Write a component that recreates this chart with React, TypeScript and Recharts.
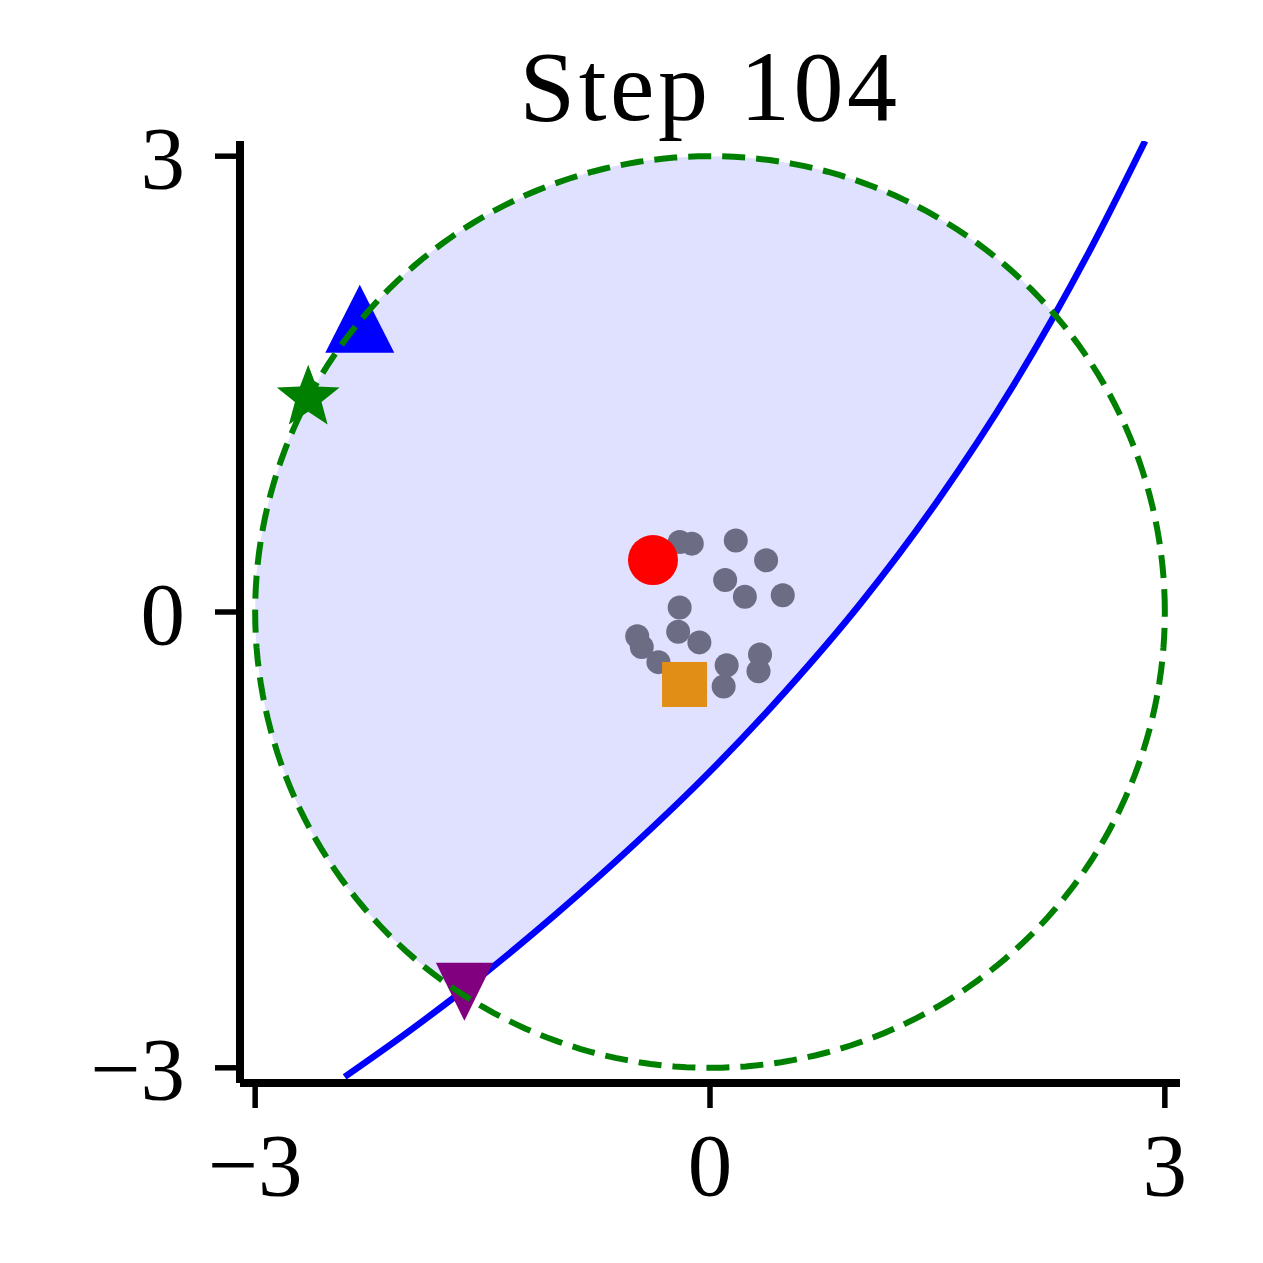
import { Area, ComposedChart, Customized, Line, Scatter, XAxis, YAxis } from "recharts";

const TITLE = "Step 104";
const AXIS_TICKS = [-3, 0, 3];
const CIRCLE_RADIUS = 3;

// blue boundary curve
const CURVE_X = [-2.41, -2.0, -1.5, -1.0, -0.5, 0.0, 0.5, 1.0, 1.5, 2.0, 2.5, 2.87];
const CURVE_Y = [-3.06, -2.77, -2.39, -1.975, -1.53, -1.05, -0.52, 0.065, 0.73, 1.49, 2.37, 3.1];

// where the curve crosses the circle
const LOWER_CROSS = { x: -1.645, y: -2.507 };
const UPPER_CROSS = { x: 2.275, y: 1.955 };

// left part of the shaded region follows the circle only
const CIRCLE_ONLY_X = [-3.0, -2.995, -2.98, -2.95, -2.9, -2.83, -2.74, -2.62, -2.47, -2.3, -2.1, -1.9, -1.75];
// extra points along the top arc of the shaded region
const TOP_ARC_X = [-1.25, -0.75, -0.25, 0.25, 0.75, 1.25, 1.75, 2.15];

const SAMPLE_X = [-0.2, -0.12, 0.17, 0.37, 0.1, 0.23, 0.48, -0.2, -0.21, -0.07, -0.48, -0.45, -0.34, 0.11, 0.09, 0.33, 0.32];
const SAMPLE_Y = [0.46, 0.45, 0.47, 0.34, 0.21, 0.1, 0.11, 0.03, -0.13, -0.2, -0.16, -0.23, -0.33, -0.35, -0.49, -0.28, -0.39];

const RED_POINT = [{ x: -0.376, y: 0.342 }];
const ORANGE_POINT = [{ x: -0.168, y: -0.477 }];
const BLUE_TRIANGLE = [{ x: -2.31, y: 1.93 }];
const GREEN_STAR = [{ x: -2.65, y: 1.41 }];
const PURPLE_TRIANGLE = [{ x: -1.62, y: -2.5 }];

const curveData = CURVE_X.map((x, i) => ({ x, y: CURVE_Y[i] }));
const sampleData = SAMPLE_X.map((x, i) => ({ x, y: SAMPLE_Y[i] }));

const circleTop = (x: number) => Math.sqrt(Math.max(0, CIRCLE_RADIUS ** 2 - x * x));

const circleData = Array.from({ length: 241 }, (_, i) => {
  const a = (i / 240) * 2 * Math.PI;
  return { x: CIRCLE_RADIUS * Math.cos(a), y: CIRCLE_RADIUS * Math.sin(a) };
});

// lower edge of the shaded region between read curve points (straight segments of the curve)
const curveAt = (x: number) => {
  for (let i = 0; i < CURVE_X.length - 1; i++) {
    if (x >= CURVE_X[i] && x <= CURVE_X[i + 1]) {
      const t = (x - CURVE_X[i]) / (CURVE_X[i + 1] - CURVE_X[i]);
      return CURVE_Y[i] + t * (CURVE_Y[i + 1] - CURVE_Y[i]);
    }
  }
  return CURVE_Y[0];
};

const bandData = [
  ...CIRCLE_ONLY_X.map((x) => ({ x, band: [-circleTop(x), circleTop(x)] })),
  { x: LOWER_CROSS.x, band: [LOWER_CROSS.y, circleTop(LOWER_CROSS.x)] },
  ...[...curveData.filter((p) => p.x > LOWER_CROSS.x && p.x < UPPER_CROSS.x).map((p) => p.x), ...TOP_ARC_X]
    .sort((a, b) => a - b)
    .map((x) => ({ x, band: [curveAt(x), circleTop(x)] })),
  { x: UPPER_CROSS.x, band: [UPPER_CROSS.y, UPPER_CROSS.y] },
];

const fmt = (v: number) => (v < 0 ? `\u2212${-v}` : `${v}`);

const FONT = "'Liberation Serif', 'DejaVu Serif', serif";
const tickStyle = { fontSize: 89, fill: "#000", fontFamily: FONT };

const Nothing = () => <g />;

const App = () => {
  return (
    <div style={{ position: "absolute", left: 0, top: 0, width: 1263, height: 1263, background: "#fff" }}>
      <ComposedChart width={1263} height={1263} margin={{ top: 141, right: 83, left: 40, bottom: 40 }}>
        <XAxis
          type="number"
          dataKey="x"
          domain={[-3.1, 3.1]}
          ticks={AXIS_TICKS}
          tickFormatter={fmt}
          tick={tickStyle}
          tickSize={25}
          tickMargin={24}
          height={140}
          axisLine={{ stroke: "#000", strokeWidth: 8 }}
          tickLine={{ stroke: "#000", strokeWidth: 5.5 }}
          allowDataOverflow
        />
        <YAxis
          type="number"
          dataKey="y"
          domain={[-3.1, 3.1]}
          ticks={AXIS_TICKS}
          tickFormatter={fmt}
          tick={tickStyle}
          tickSize={25}
          tickMargin={30}
          width={200}
          axisLine={{ stroke: "#000", strokeWidth: 8 }}
          tickLine={{ stroke: "#000", strokeWidth: 5.5 }}
          allowDataOverflow
        />
        <Area
          data={bandData}
          dataKey="band"
          type="monotone"
          fill="#0000ff"
          fillOpacity={0.12}
          stroke="none"
          isAnimationActive={false}
        />
        <Scatter data={sampleData} fill="#6c6c84" isAnimationActive={false}
          shape={(p: any) => <circle cx={p.cx} cy={p.cy} r={12} fill="#6c6c84" />} />
        <Scatter data={RED_POINT} fill="#ff0000" isAnimationActive={false}
          shape={(p: any) => <circle cx={p.cx} cy={p.cy} r={25} fill="#ff0000" />} />
        <Scatter data={ORANGE_POINT} fill="#e08e16" isAnimationActive={false}
          shape={(p: any) => <rect x={p.cx - 22.5} y={p.cy - 22.5} width={45} height={45} fill="#e08e16" />} />
        <Scatter data={BLUE_TRIANGLE} fill="#0000ff" isAnimationActive={false}
          shape={(p: any) => (
            <path d={`M${p.cx},${p.cy - 34} L${p.cx + 34.5},${p.cy + 34} L${p.cx - 34.5},${p.cy + 34} Z`} fill="#0000ff" />
          )} />
        <Scatter data={PURPLE_TRIANGLE} fill="#800080" isAnimationActive={false}
          shape={(p: any) => (
            <path d={`M${p.cx},${p.cy + 29} L${p.cx + 28.5},${p.cy - 29} L${p.cx - 28.5},${p.cy - 29} Z`} fill="#800080" />
          )} />
        <Scatter data={GREEN_STAR} fill="#008000" isAnimationActive={false}
          shape={(p: any) => {
            const pts: string[] = [];
            for (let k = 0; k < 10; k++) {
              const r = k % 2 === 0 ? 33 : 14;
              const a = -Math.PI / 2 + (k * Math.PI) / 5;
              pts.push(`${p.cx + r * Math.cos(a)},${p.cy + r * Math.sin(a)}`);
            }
            return <polygon points={pts.join(" ")} fill="#008000" />;
          }} />
        <Line
          data={curveData}
          dataKey="y"
          type="monotone"
          stroke="#0000ff"
          strokeWidth={6.5}
          dot={false}
          activeDot={false}
          isAnimationActive={false}
        />
        <Scatter
          data={circleData}
          fill="#008000"
          line={{ stroke: "#008000", strokeWidth: 6, strokeDasharray: "23 11" }}
          lineType="joint"
          shape={Nothing}
          isAnimationActive={false}
        />
        <Customized
          component={() => (
            <text x={710} y={120} textAnchor="middle" fontSize={100} letterSpacing={3.5} fontFamily={FONT} fill="#000">
              {TITLE}
            </text>
          )}
        />
      </ComposedChart>
    </div>
  );
};

export default App;
